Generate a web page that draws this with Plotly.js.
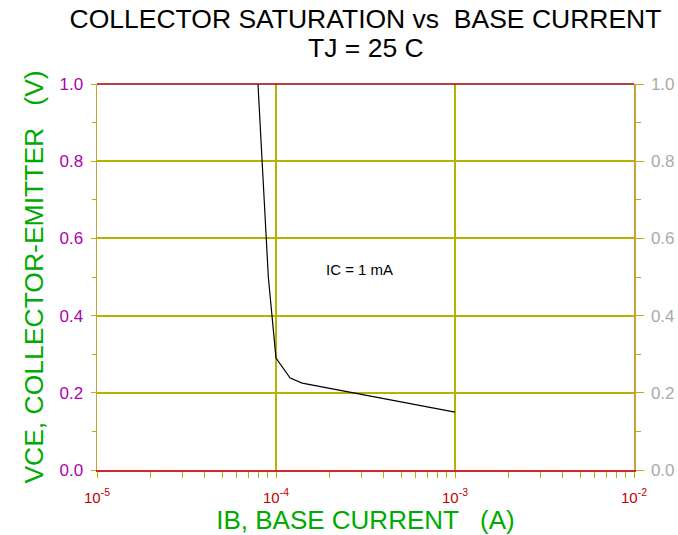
<!DOCTYPE html>
<html>
<head>
<meta charset="utf-8">
<script src="https://cdn.plot.ly/plotly-3.0.1.min.js"></script>
<style>html,body{margin:0;padding:0;background:#fff;}#chart{width:678px;height:535px;}</style>
</head>
<body>
<div id="chart"></div>
<script>
// Data
const ibBaseCurrent = [7.93e-5, 8.68e-5, 9.06e-5, 1.0e-4, 1.2e-4, 1.4e-4, 1.0e-3];
const vceSat        = [1.00,    0.65,    0.50,    0.29,   0.238,  0.225,  0.150];
const curveLabel = "IC = 1 mA";
const curveLabelPos = {ib: 2.94e-4, vce: 0.52};
const xTickVals = [1e-5, 1e-4, 1e-3, 1e-2];
const xTickText = ["10<sup>-5</sup>", "10<sup>-4</sup>", "10<sup>-3</sup>", "10<sup>-2</sup>"];
const yTickVals = [0, 0.2, 0.4, 0.6, 0.8, 1.0];
const yTickText = ["0.0", "0.2", "0.4", "0.6", "0.8", "1.0"];

const FONT = "Liberation Sans, Arial, sans-serif";
const OLIVE = "#b4b400";
const TAN = "#c8a040";

const traces = [{
  x: ibBaseCurrent, y: vceSat, type: "scatter", mode: "lines",
  line: {color: "#000000", width: 1.2}, hoverinfo: "skip", showlegend: false
}, {
  x: ibBaseCurrent, y: vceSat, type: "scatter", mode: "lines", yaxis: "y2",
  line: {color: "rgba(0,0,0,0)", width: 0}, hoverinfo: "skip", showlegend: false
}];

const layout = {
  width: 678, height: 535,
  margin: {l: 97, r: 44, t: 84, b: 65},
  paper_bgcolor: "#ffffff", plot_bgcolor: "#ffffff",
  font: {family: FONT},
  showlegend: false,
  title: {
    text: "COLLECTOR SATURATION vs  BASE CURRENT",
    font: {family: FONT, size: 26.5, color: "#000000"},
    xref: "paper", x: 0.5, xanchor: "center",
    yref: "container", y: 1 - 19/535, yanchor: "middle"
  },
  xaxis: {
    type: "log", range: [-5, -2],
    tickmode: "array", tickvals: xTickVals, ticktext: xTickText,
    tickfont: {family: FONT, size: 15, color: "#c00000"},
    ticks: "outside", ticklen: 6, tickcolor: OLIVE, tickwidth: 1,
    ticklabelstandoff: 7,
    minor: {dtick: "D1", ticks: "outside", ticklen: 6, tickcolor: OLIVE, showgrid: false},
    showgrid: true, gridcolor: OLIVE, gridwidth: 1.2,
    showline: true, linecolor: "#d02828", linewidth: 1.5,
    zeroline: false,
    title: {text: "IB, BASE CURRENT   (A)", font: {family: FONT, size: 26, color: "#00aa00"}, standoff: 3}
  },
  yaxis: {
    range: [0, 1], tickmode: "array", tickvals: yTickVals, ticktext: yTickText,
    tickfont: {family: FONT, size: 17, color: "#b000b0"},
    ticks: "outside", ticklen: 5, tickcolor: OLIVE,
    ticklabelstandoff: 4,
    minor: {dtick: 0.1, ticks: "outside", ticklen: 4, tickcolor: OLIVE, showgrid: false},
    showgrid: true, gridcolor: OLIVE, gridwidth: 2,
    showline: true, linecolor: TAN, linewidth: 1.5,
    zeroline: false,
    title: {text: "VCE, COLLECTOR-EMITTER   (V)", font: {family: FONT, size: 26.5, color: "#00aa00"}, standoff: 8}
  },
  yaxis2: {
    overlaying: "y", side: "right", range: [0, 1],
    tickmode: "array", tickvals: yTickVals, ticktext: yTickText,
    tickfont: {family: FONT, size: 17, color: "#aaaaaa"},
    ticks: "outside", ticklen: 8, tickcolor: OLIVE,
    ticklabelstandoff: 4,
    minor: {dtick: 0.1, ticks: "outside", ticklen: 5, tickcolor: OLIVE, showgrid: false},
    showgrid: false, showline: true, linecolor: TAN, linewidth: 1.5, zeroline: false
  },
  shapes: [{
    type: "line", xref: "paper", yref: "paper", x0: 0, x1: 1, y0: 1, y1: 1,
    line: {color: "#a00000", width: 1.5}, layer: "above"
  }],
  annotations: [{
    text: "TJ = 25 C", xref: "paper", yref: "paper", x: 0.5, y: (470 - 48) / 386,
    xanchor: "center", yanchor: "middle", showarrow: false,
    font: {family: FONT, size: 26.5, color: "#000000"}
  }, {
    text: curveLabel, x: Math.log10(curveLabelPos.ib), y: curveLabelPos.vce,
    xref: "x", yref: "y", xanchor: "center", yanchor: "middle", showarrow: false,
    font: {family: FONT, size: 15, color: "#000000"}
  }]
};

Plotly.newPlot("chart", traces, layout, {staticPlot: true, displayModeBar: false});
</script>
</body>
</html>
